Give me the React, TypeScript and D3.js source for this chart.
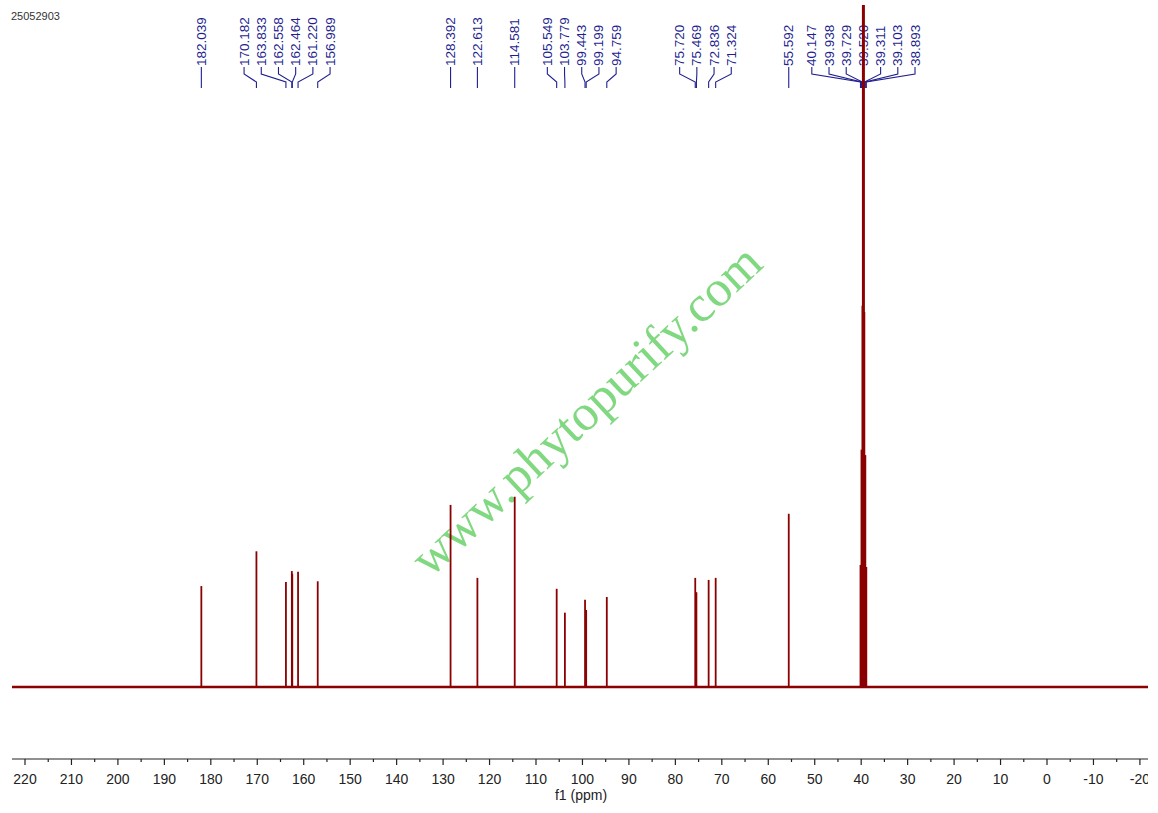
import React from "react";
import * as d3 from "d3";

const W = 1158;
const H = 813;

const sampleId = "25052903";
const axisTitle = "f1 (ppm)";
const watermark = "www.phytopurify.com";

// chemical shifts (ppm) of the labelled lines
const peakShifts = [
  182.039, 170.182, 163.833, 162.558, 162.464, 161.22, 156.989, 128.392, 122.613,
  114.581, 105.549, 103.779, 99.443, 99.199, 94.759, 75.72, 75.469, 72.836, 71.324,
  55.592, 40.147, 39.938, 39.729, 39.52, 39.311, 39.103, 38.893,
];
// label strings as printed
const peakLabels = [
  "182.039", "170.182", "163.833", "162.558", "162.464", "161.220", "156.989", "128.392",
  "122.613", "114.581", "105.549", "103.779", "99.443", "99.199", "94.759", "75.720",
  "75.469", "72.836", "71.324", "55.592", "40.147", "39.938", "39.729", "39.520",
  "39.311", "39.103", "38.893",
];
// relative intensities (% of plot height)
const peakHeights = [
  14.8, 19.9, 15.4, 17.0, 16.6, 16.9, 15.5, 26.7, 16.0, 27.9, 14.4, 10.9, 12.8, 11.3,
  13.2, 16.0, 13.9, 15.7, 16.0, 25.4, 17.9, 34.8, 55.9, 120, 55.0, 34.0, 17.6,
];

const majorTicks = [220, 210, 200, 190, 180, 170, 160, 150, 140, 130, 120, 110, 100, 90, 80, 70, 60, 50, 40, 30, 20, 10, 0, -10, -20];
const minorTicks = [215, 205, 195, 185, 175, 165, 155, 145, 135, 125, 115, 105, 95, 85, 75, 65, 55, 45, 35, 25, 15, 5, -5, -15];

const LEFT = 12;
const RIGHT = 1148;
const BASE_Y = 687;
const TOP_Y = 5;
const AXIS_Y = 759;

const x = d3.scaleLinear().domain([220, 0]).range([25, 1047]);
const y = d3.scaleLinear().domain([0, 100]).range([BASE_Y, TOP_Y]);

function layoutLabels(px: number[], gap: number): number[] {
  type G = { idx: number[]; lo: number; hi: number };
  let groups: G[] = px.map((v, i) => ({ idx: [i], lo: v, hi: v }));
  const start = (g: G) => (g.lo + g.hi) / 2 - ((g.idx.length - 1) * gap) / 2;
  const end = (g: G) => (g.lo + g.hi) / 2 + ((g.idx.length - 1) * gap) / 2;
  let changed = true;
  while (changed) {
    changed = false;
    for (let i = 0; i < groups.length - 1; i++) {
      const a = groups[i];
      const b = groups[i + 1];
      if (start(b) - end(a) < gap) {
        const m: G = { idx: [...a.idx, ...b.idx], lo: Math.min(a.lo, b.lo), hi: Math.max(a.hi, b.hi) };
        groups = [...groups.slice(0, i), m, ...groups.slice(i + 2)];
        changed = true;
        break;
      }
    }
  }
  const out: number[] = new Array(px.length);
  groups.forEach((g) => {
    const s = start(g);
    g.idx.forEach((id, k) => (out[id] = s + k * gap));
  });
  return out;
}

export default function App() {
  const peakX = peakShifts.map((p) => x(p));
  const labelX = layoutLabels(peakX, 17.2);
  const blue = "#1f1f8f";
  const red = "#8b0000";

  const legPath = (lx: number, pxv: number) =>
    d3.line()([
      [lx, 67],
      [lx, 74],
      [pxv, 82],
      [pxv, 88],
    ]) as string;

  return (
    <svg
      width={W}
      height={H}
      style={{ position: "absolute", left: 0, top: 0, background: "#fff" }}
      fontFamily="Liberation Sans, Arial, sans-serif"
    >
      <defs>
        <clipPath id="plotClip">
          <rect x={LEFT} y={TOP_Y} width={RIGHT - LEFT} height={BASE_Y - TOP_Y + 10} />
        </clipPath>
        <clipPath id="axisClip">
          <rect x={0} y={AXIS_Y - 5} width={RIGHT} height={60} />
        </clipPath>
      </defs>

      <text x={11} y={20} fontSize={11} fill="#333">
        {sampleId}
      </text>

      {/* peak labels */}
      <g>
        {peakLabels.map((lab, i) => (
          <g key={lab + i}>
            <text
              transform={`translate(${labelX[i]},66) rotate(-90)`}
              fontSize={13.5}
              fill={blue}
              dominantBaseline="central"
              textAnchor="start"
            >
              {lab}
            </text>
            <path d={legPath(labelX[i], peakX[i])} fill="none" stroke={blue} strokeWidth={1.1} />
          </g>
        ))}
      </g>

      {/* watermark */}
      <text
        transform="translate(586,410) rotate(-43)"
        fontFamily="Liberation Serif, Times New Roman, serif"
        fontSize={51}
        fill="#80d880"
        textAnchor="middle"
        dominantBaseline="central"
      >
        {watermark}
      </text>

      {/* spectrum */}
      <g clipPath="url(#plotClip)">
        <line x1={LEFT} x2={RIGHT} y1={y(0)} y2={y(0)} stroke={red} strokeWidth={2.6} />
        {peakShifts.map((p, i) => (
          <line
            key={i}
            x1={x(p)}
            x2={x(p)}
            y1={y(0)}
            y2={y(peakHeights[i])}
            stroke={red}
            strokeWidth={peakHeights[i] > 100 ? 3 : 1.8}
          />
        ))}
      </g>

      {/* axis */}
      <g>
        <line x1={LEFT} x2={RIGHT} y1={AXIS_Y} y2={AXIS_Y} stroke="#222" strokeWidth={1.2} />
        {majorTicks.map((t) => (
          <line key={"M" + t} x1={x(t)} x2={x(t)} y1={AXIS_Y} y2={AXIS_Y + 6} stroke="#222" strokeWidth={1.2} />
        ))}
        {minorTicks.map((t) => (
          <line key={"m" + t} x1={x(t)} x2={x(t)} y1={AXIS_Y} y2={AXIS_Y + 3} stroke="#222" strokeWidth={1.2} />
        ))}
        <g clipPath="url(#axisClip)">
          {majorTicks.map((t) => (
            <text key={"l" + t} x={x(t)} y={784} fontSize={14} fill="#222" textAnchor="middle">
              {t}
            </text>
          ))}
        </g>
        <text x={581} y={800} fontSize={14} fill="#222" textAnchor="middle">
          {axisTitle}
        </text>
      </g>
    </svg>
  );
}
